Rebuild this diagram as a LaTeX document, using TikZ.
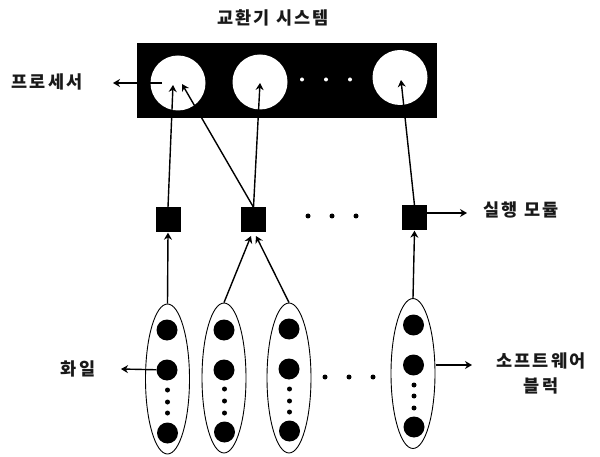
\documentclass[tikz,border=0pt]{standalone}
\usepackage{fontspec}
\newfontfamily\krfont[LetterSpace=13]{Noto Sans CJK KR}
\usetikzlibrary{arrows.meta,shapes.geometric}
\tikzset{
 x=1pt,y=-1pt,
 lab/.style={font=\krfont\bfseries\fontsize{17.5}{25}\selectfont,inner sep=0pt,align=center,text=black!90},
 proc/.style={circle,fill=white,inner sep=0pt,minimum size=55pt},
 mod/.style={rectangle,fill=black,inner sep=0pt,minimum size=25pt},
 blockell/.style={ellipse,draw=black,line width=.9pt,inner sep=0pt,minimum width=44pt,minimum height=150pt},
 bigdot/.style={circle,fill=black,inner sep=0pt,minimum size=21pt},
 smalldot/.style={circle,fill=black,inner sep=0pt,minimum size=5pt},
 whitedot/.style={circle,fill=white,inner sep=0pt,minimum size=4pt},
 conn/.style={line width=1.4pt,-{Stealth[length=7pt,width=8pt]}},
}
\begin{document}
\begin{tikzpicture}
\useasboundingbox (0,0) rectangle (600,457);
\node[fill=black,inner sep=0pt,minimum width=300pt,minimum height=75pt] (sys) at (287,80.5) {};
\node[proc] (c1) at (178,83) {};
\node[proc] (c2) at (260,82) {};
\node[proc] (c3) at (400,77.5) {};
\node[whitedot] (w1) at (302,79.5) {};
\node[whitedot] (w2) at (326,79.5) {};
\node[whitedot] (w3) at (350,79.5) {};
\node[mod] (s1) at (168,220) {};
\node[mod] (s2) at (253.5,220) {};
\node[mod] (s3) at (414.5,218) {};
\node[smalldot] (m1) at (308,216) {};
\node[smalldot] (m2) at (332,216) {};
\node[smalldot] (m3) at (356,216) {};
\node[blockell] (e1) at (167.5,379) {};
\node[blockell] (e2) at (224,378) {};
\node[blockell] (e3) at (289,378) {};
\node[blockell] (e4) at (413,373.5) {};
\foreach \n/\x/\a/\b/\c/\p/\q/\r in {1/167/330/370/433/390/402/413,2/224/330/370/432/389/401/413,3/289/329/369/431/389/401/412,4/413.5/325/365/427/385/396/408}{
 \node[bigdot] (b\n a) at (\x,\a) {};
 \node[bigdot] (b\n b) at (\x,\b) {};
 \node[bigdot] (b\n c) at (\x+.5,\c) {};
 \node[smalldot] (d\n a) at (\x+.5,\p) {};
 \node[smalldot] (d\n b) at (\x+.5,\q) {};
 \node[smalldot] (d\n c) at (\x+.5,\r) {};
}
\node[smalldot] (r1) at (325,377) {};
\node[smalldot] (r2) at (349,377) {};
\node[smalldot] (r3) at (373,377) {};
\node[lab] (t1) at (273,18) {교환기 시스템};
\node[lab] (t2) at (47,82) {프로세서};
\node[lab] (t3) at (521,210) {실행 모듈};
\node[lab] (t4) at (78,369) {화일};
\node[lab] (t5) at (541,373.5) {소프트웨어\\블럭};
\coordinate (a1) at (173,85);
\coordinate (a2) at (182,84);
\coordinate (a3) at (260,83);
\coordinate (a4) at (401,80);
\coordinate (o1) at (162,83);
\coordinate (o2) at (113,83);
\coordinate (o3) at (467,213);
\coordinate (o4) at (472,365);
\coordinate (o5) at (121,369);
\coordinate (i2) at (251,236);
\coordinate (i3) at (256,236);
\coordinate (s3r) at (427,213);
\coordinate (e4r) at (436,365);
\draw[conn] (s1.north) -- (a1);
\draw[conn] (s2.north) -- (a2);
\draw[conn] (s2.north) -- (a3);
\draw[conn] (s3.north) -- (a4);
\draw[conn] (o1) -- (o2);
\draw[conn] (e1.north) -- (s1.south);
\draw[conn] (e2.north) -- (i2);
\draw[conn] (e3.north) -- (i3);
\draw[conn] (e4.north) -- (s3.south);
\draw[conn] (s3r) -- (o3);
\draw[conn] (e4r) -- (o4);
\draw[conn] (b1b) -- (o5);
\end{tikzpicture}
\end{document}
